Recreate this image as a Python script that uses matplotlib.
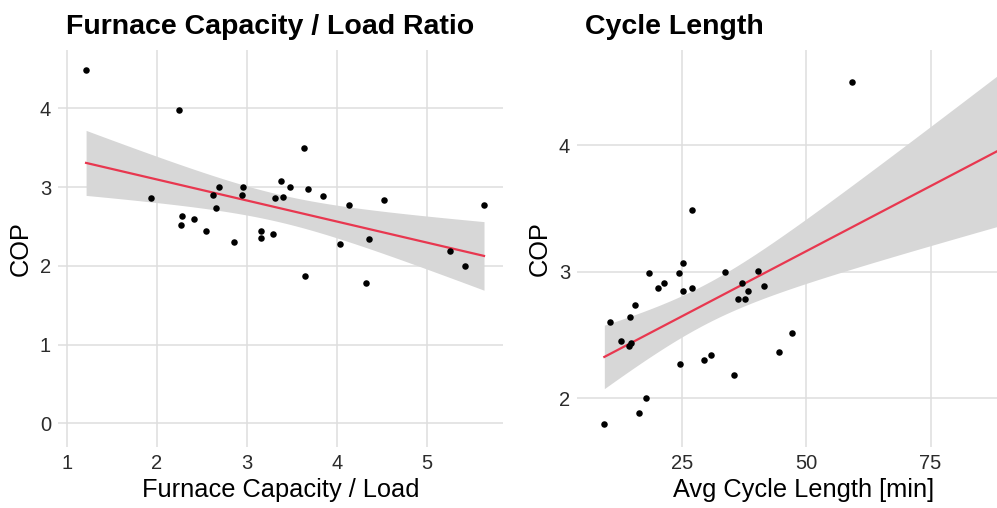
import numpy as np
import matplotlib
matplotlib.use("Agg")
import matplotlib.pyplot as plt

plt.rcParams['font.family'] = ['Liberation Sans', 'DejaVu Sans']

# Left panel data: Furnace Capacity / Load ratio vs COP
ratio = [1.215, 2.252, 1.933, 2.267, 2.281, 2.415, 2.552, 2.630, 2.656, 2.689,
         2.856, 2.944, 2.959, 3.156, 3.156, 3.289, 3.319, 3.378, 3.400, 3.485,
         3.633, 3.648, 3.681, 3.844, 4.041, 4.133, 4.330, 4.356, 4.522, 5.259,
         5.426, 5.637]
cop_ratio = [4.49, 3.975, 2.856, 2.513, 2.631, 2.597, 2.441, 2.903, 2.733, 2.996,
             2.305, 2.898, 2.996, 2.441, 2.352, 2.407, 2.856, 3.081, 2.873, 2.996,
             3.492, 1.873, 2.979, 2.890, 2.271, 2.771, 1.788, 2.339, 2.839, 2.182,
             1.996, 2.771]

# Right panel data: average cycle length vs COP
# (last observation, COP 3.975, lies just beyond the cropped right edge)
cycle = [9.36, 10.44, 12.65, 14.33, 14.73, 14.53, 15.54, 16.41, 17.75, 18.36,
         20.23, 21.31, 24.33, 24.60, 25.13, 25.13, 27.01, 27.01, 29.50, 30.84,
         33.59, 35.47, 36.28, 37.08, 37.75, 38.22, 40.37, 41.51, 44.53, 47.21,
         59.16, 91.0]
cop_cycle = [1.794, 2.598, 2.451, 2.408, 2.435, 2.643, 2.738, 1.881, 1.997, 2.986,
             2.867, 2.909, 2.986, 2.266, 3.070, 2.846, 3.489, 2.867, 2.298, 2.340,
             2.993, 2.182, 2.783, 2.909, 2.783, 2.846, 3.007, 2.888, 2.361, 2.514,
             4.495, 3.975]

titles = ["Furnace Capacity / Load Ratio", "Cycle Length"]
xlabels = ["Furnace Capacity / Load", "Avg Cycle Length [min]"]
ylabel = "COP"

T975 = {29: 2.045, 30: 2.042}


def fit_ci(x, y, xs):
    x = np.asarray(x, float)
    y = np.asarray(y, float)
    n = len(x)
    b, a = np.polyfit(x, y, 1)
    yhat = a + b * x
    s = np.sqrt(np.sum((y - yhat) ** 2) / (n - 2))
    sxx = np.sum((x - x.mean()) ** 2)
    se = s * np.sqrt(1.0 / n + (xs - x.mean()) ** 2 / sxx)
    t = T975.get(n - 2, 2.04)
    ys = a + b * xs
    return ys, ys - t * se, ys + t * se


fig = plt.figure(figsize=(9.97, 5.08), dpi=100)
W, H = 997, 508
ax1 = fig.add_axes([58 / W, 1 - 447 / H, (503 - 58) / W, (447 - 50) / H])
# right panel continues past the (cropped) right edge of the figure
ax2 = fig.add_axes([577 / W, 1 - 447 / H, (1031 - 577) / W, (447 - 50) / H])

line_col = "#E8374F"
ribbon_col = "#D7D7D7"
grid_col = "#DEDEDE"

# left
xs1 = np.linspace(min(ratio), max(ratio), 100)
ys1, lo1, hi1 = fit_ci(ratio, cop_ratio, xs1)
ax1.fill_between(xs1, lo1, hi1, color=ribbon_col, lw=0, zorder=2)
ax1.plot(xs1, ys1, color=line_col, lw=1.6, zorder=3)
ax1.scatter(ratio, cop_ratio, s=22, color="black", zorder=4, lw=0)
ax1.set_xlim(0.903, 5.848)
ax1.set_ylim(-0.30, 4.74)
ax1.set_xticks([1, 2, 3, 4, 5])
ax1.set_yticks([0, 1, 2, 3, 4])

# right
xs2 = np.linspace(min(cycle), max(cycle), 100)
ys2, lo2, hi2 = fit_ci(cycle, cop_cycle, xs2)
ax2.fill_between(xs2, lo2, hi2, color=ribbon_col, lw=0, zorder=2)
ax2.plot(xs2, ys2, color=line_col, lw=1.6, zorder=3)
ax2.scatter(cycle, cop_cycle, s=22, color="black", zorder=4, lw=0)
ax2.set_xlim(3.86, 95.2)
ax2.set_ylim(1.613, 4.751)
ax2.set_xticks([25, 50, 75])
ax2.set_yticks([2, 3, 4])

for ax, t, xl in zip([ax1, ax2], titles, xlabels):
    for sp in ax.spines.values():
        sp.set_visible(False)
    ax.grid(True, color=grid_col, lw=1.1, zorder=0)
    ax.set_axisbelow(True)
    ax.tick_params(length=0, labelsize=14.5, pad=5)
    for lab in ax.get_xticklabels() + ax.get_yticklabels():
        lab.set_color("#2b2b2b")
    ax.set_xlabel(xl, fontsize=18.3, color="black", labelpad=4)
    ax.set_ylabel(ylabel, fontsize=18.3, color="black", labelpad=5)
    ax.annotate(t, xy=(0, 1), xycoords="axes fraction", xytext=(8, 16),
                textcoords="offset pixels", fontsize=20.5, fontweight="bold",
                ha="left", va="baseline")

fig.savefig("out.png", dpi=100)
